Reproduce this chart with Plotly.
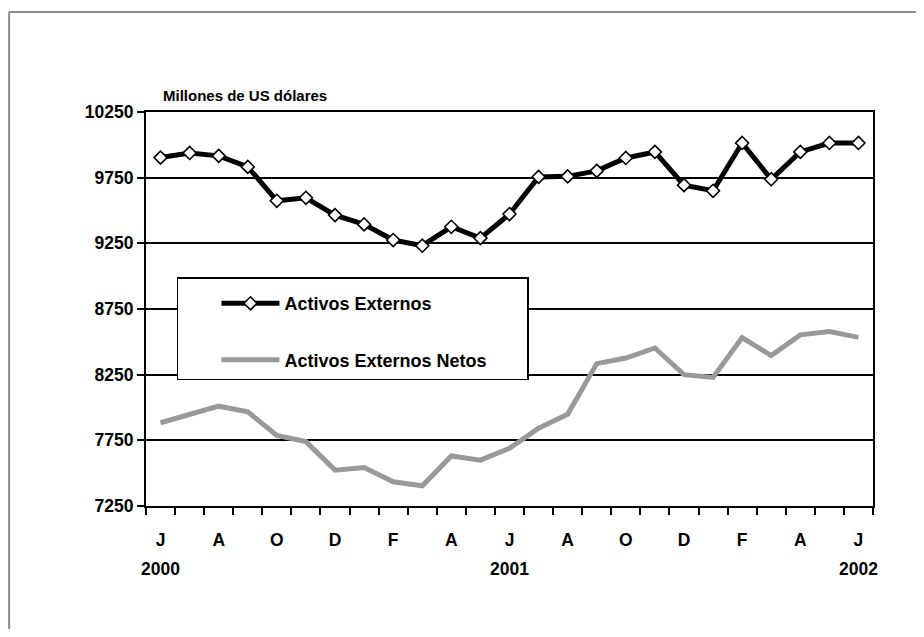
import plotly.graph_objects as go

# monthly data, June 2000 - June 2002 (millones de US dólares)
meses = ["Jun00", "Jul00", "Ago00", "Sep00", "Oct00", "Nov00", "Dic00", "Ene01", "Feb01",
         "Mar01", "Abr01", "May01", "Jun01", "Jul01", "Ago01", "Sep01", "Oct01", "Nov01",
         "Dic01", "Ene02", "Feb02", "Mar02", "Abr02", "May02", "Jun02"]
activos_externos = [9903, 9938, 9916, 9832, 9574, 9597, 9465, 9394, 9275, 9232, 9376, 9290, 9473,
                    9756, 9760, 9802, 9900, 9946, 9693, 9650, 10014, 9738, 9946, 10014, 10014]
activos_netos = [7884, 7947, 8010, 7967, 7788, 7740, 7523, 7543, 7434, 7404, 7631, 7599, 7690,
                 7843, 7948, 8334, 8377, 8453, 8250, 8229, 8532, 8395, 8553, 8579, 8534]

tick_pos = [0, 2, 4, 6, 8, 10, 12, 14, 16, 18, 20, 22, 24]
tick_labels = ["J", "A", "O", "D", "F", "A", "J", "A", "O", "D", "F", "A", "J"]
year_pos = [0, 12, 24]
year_labels = ["2000", "2001", "2002"]

FONT = "Liberation Sans, Arial, sans-serif"
idx = list(range(len(meses)))
pad = "\u00a0" * 7  # right padding inside the legend box

fig = go.Figure()
fig.add_trace(go.Scatter(
    x=idx, y=activos_externos, name="Activos Externos", mode="lines+markers",
    line=dict(color="black", width=5),
    marker=dict(symbol="diamond", size=10, color="white", line=dict(color="black", width=1.6)),
    legendgroup="a"))
fig.add_trace(go.Scatter(
    x=idx, y=activos_netos, name="Activos Externos Netos" + pad, mode="lines",
    line=dict(color="#999999", width=5), legendgroup="b"))

annotations = [dict(text="Millones de US dólares", xref="paper", yref="paper",
                    x=0.0206, y=1.0423, xanchor="left", yanchor="middle", showarrow=False,
                    font=dict(family=FONT, size=15, color="black", weight="bold"))]
for p, t in zip(year_pos, year_labels):
    annotations.append(dict(text=t, x=p, xref="x", yref="paper", y=-0.1596,
                            xanchor="center", yanchor="middle", showarrow=False,
                            font=dict(family=FONT, size=17.5, color="black", weight="bold")))

fig.update_layout(
    width=908, height=621,
    margin=dict(l=138, r=42.5, t=104, b=122.5, autoexpand=False),
    plot_bgcolor="white", paper_bgcolor="white",
    font=dict(family=FONT, size=17.5, color="black", weight="bold"),
    showlegend=True,
    legend=dict(x=0.0426, y=0.581, xanchor="left", yanchor="top",
                bgcolor="white", bordercolor="black", borderwidth=1.5,
                font=dict(family=FONT, size=18, color="black", weight="bold"),
                title=dict(text=" ", font=dict(size=5)),
                traceorder="grouped", tracegroupgap=30, itemwidth=58,
                indentation=38),
    annotations=annotations,
    shapes=[
        dict(type="line", xref="paper", yref="paper", x0=-0.1883, x1=1.2, y0=1.2535, y1=1.2535,
             line=dict(color="#8c8c8c", width=2)),
        dict(type="line", xref="paper", yref="paper", x0=-0.1883, x1=-0.1883, y0=-0.4, y1=1.2535,
             line=dict(color="#8c8c8c", width=2)),
    ],
)

fig.update_xaxes(
    range=[-0.5, 24.5], tickmode="array", tickvals=tick_pos, ticktext=tick_labels,
    ticks="", showgrid=False, zeroline=False, automargin=False,
    showline=True, linecolor="black", linewidth=2, mirror=True,
    ticklabelstandoff=17,
    minor=dict(ticks="outside", tick0=-0.5, dtick=1, ticklen=7, tickwidth=1.5,
               tickcolor="black", showgrid=False),
)
fig.update_yaxes(
    range=[7250, 10250], dtick=500, tick0=7250, tickformat="d", automargin=False,
    ticks="outside", ticklen=7, tickwidth=1.5, tickcolor="black",
    showgrid=True, gridcolor="black", gridwidth=1.5, zeroline=False,
    showline=True, linecolor="black", linewidth=2, mirror=True,
)

fig.write_html("out.html")
